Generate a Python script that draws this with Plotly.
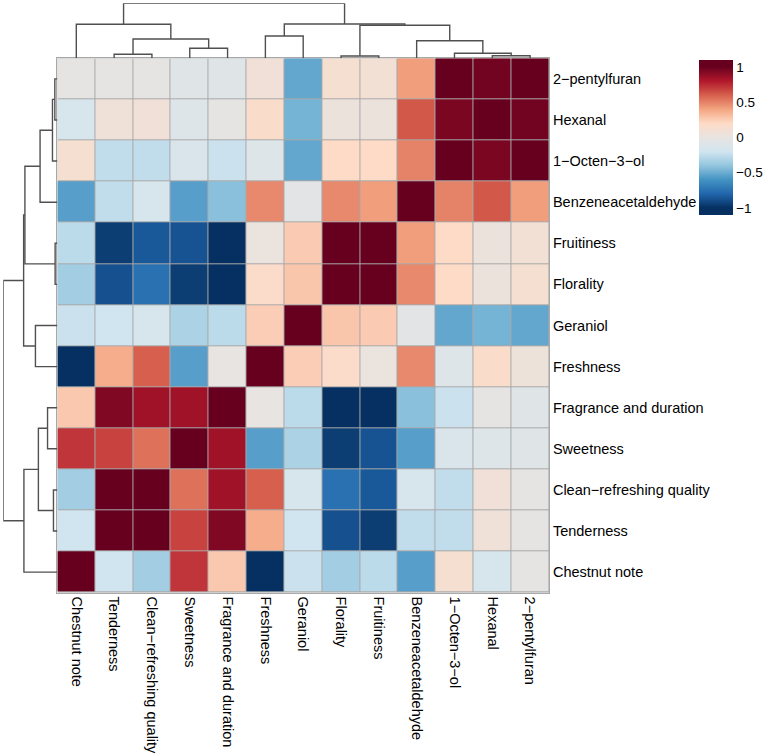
import plotly.graph_objects as go

# ---------------- data ----------------
col_labels = ["Chestnut note", "Tenderness", "Clean−refreshing quality", "Sweetness",
              "Fragrance and duration", "Freshness", "Geraniol", "Florality", "Fruitiness",
              "Benzeneacetaldehyde", "1−Octen−3−ol", "Hexanal", "2−pentylfuran"]
row_labels = col_labels[::-1]

# correlation rows (top to bottom), columns in col_labels order
r_pentylfuran = [-0.03, -0.03, -0.03, -0.08, -0.08, 0.08, -0.52, 0.12, 0.10, 0.42, 1.00, 0.97, 1.00]
r_hexanal     = [-0.15, 0.07, 0.08, -0.10, -0.03, 0.17, -0.47, 0.04, 0.04, 0.62, 0.95, 1.00, 0.97]
r_octenol     = [0.12, -0.25, -0.25, -0.13, -0.22, -0.10, -0.52, 0.20, 0.20, 0.50, 1.00, 0.95, 1.00]
r_benzene     = [-0.55, -0.25, -0.15, -0.55, -0.42, 0.48, -0.05, 0.48, 0.42, 1.00, 0.50, 0.62, 0.42]
r_fruitiness  = [-0.27, -0.95, -0.85, -0.87, -1.00, 0.02, 0.26, 1.00, 1.00, 0.42, 0.20, 0.04, 0.10]
r_florality   = [-0.35, -0.88, -0.75, -0.95, -1.00, 0.18, 0.28, 1.00, 1.00, 0.48, 0.20, 0.04, 0.12]
r_geraniol    = [-0.22, -0.20, -0.15, -0.32, -0.27, 0.25, 1.00, 0.28, 0.26, -0.05, -0.52, -0.47, -0.52]
r_freshness   = [-1.00, 0.37, 0.60, -0.55, 0.00, 1.00, 0.25, 0.18, 0.02, 0.48, -0.10, 0.17, 0.05]
r_fragrance   = [0.27, 0.93, 0.85, 0.85, 1.00, 0.00, -0.27, -1.00, -1.00, -0.42, -0.22, -0.03, -0.08]
r_sweetness   = [0.72, 0.68, 0.55, 1.00, 0.85, -0.55, -0.32, -0.95, -0.87, -0.55, -0.13, -0.10, -0.08]
r_clean       = [-0.35, 1.00, 1.00, 0.55, 0.85, 0.60, -0.15, -0.75, -0.85, -0.15, -0.25, 0.08, -0.03]
r_tenderness  = [-0.20, 1.00, 1.00, 0.68, 0.93, 0.37, -0.20, -0.88, -0.95, -0.25, -0.25, 0.07, -0.03]
r_chestnut    = [1.00, -0.20, -0.35, 0.72, 0.27, -1.00, -0.22, -0.35, -0.27, -0.55, 0.12, -0.15, -0.03]

z_rows = [r_pentylfuran, r_hexanal, r_octenol, r_benzene, r_fruitiness, r_florality,
          r_geraniol, r_freshness, r_fragrance, r_sweetness, r_clean, r_tenderness, r_chestnut]

# hierarchical clustering merges (child a, child b, height); leaves 0..12 in col order
merge_a = [11, 7, 1, 10, 3, 9, 15, 5, 14, 0, 20, 22]
merge_b = [12, 8, 2, 13, 4, 16, 17, 6, 18, 19, 21, 23]
merge_h = [2.6, 2.3, 4.0, 5.0, 10.0, 17.6, 19.3, 22.3, 33.0, 34.0, 34.3, 55.0]

cbar_ticks = [-1, -0.5, 0, 0.5, 1]
cbar_text = ["−1", "−0.5", "0", "0.5", "1"]

# ---------------- layout geometry ----------------
W, H = 770, 756
hm_x0, hm_x1 = 58.3, 557.7
hm_y0, hm_y1 = 58.3, 592.7
dend_top = 3.3
n = len(col_labels)

zmin, zmax = -1.1, 1.1
rdbu = ["#053061", "#2166AC", "#4393C3", "#92C5DE", "#D1E5F0", "#E8E4E1",
        "#FDDBC7", "#F4A582", "#D6604D", "#B2182B", "#67001F"]
colorscale = [[0.0, rdbu[0]]]
for i, c in enumerate(rdbu):
    v = -1 + 2 * i / (len(rdbu) - 1)
    colorscale.append([(v - zmin) / (zmax - zmin), c])
colorscale.append([1.0, rdbu[-1]])

# dendrogram coordinates
pos = {i: float(i) for i in range(n)}
hgt = {i: 0.0 for i in range(n)}
seg_p, seg_h = [], []
for k, (a, b, h) in enumerate(zip(merge_a, merge_b, merge_h)):
    seg_p += [pos[a], pos[a], pos[b], pos[b], None]
    seg_h += [hgt[a], h, h, hgt[b], None]
    pos[n + k] = (pos[a] + pos[b]) / 2
    hgt[n + k] = h

fig = go.Figure()
fig.add_trace(go.Heatmap(
    z=z_rows, x=list(range(n)), y=list(range(n)),
    zmin=zmin, zmax=zmax, colorscale=colorscale,
    xgap=1, ygap=1, xaxis="x", yaxis="y",
    colorbar=dict(x=700 / W, xanchor="left", thickness=34, thicknessmode="pixels",
                  len=175 / H, lenmode="fraction", y=1 - 50 / H, yanchor="top",
                  outlinewidth=0, ticks="", tickvals=cbar_ticks, ticktext=cbar_text,
                  tickfont=dict(size=13.5, color="black", family="Liberation Sans, Arial")),
    hoverinfo="skip"))

line_style = dict(color="#505050", width=1.4)
fig.add_trace(go.Scatter(x=seg_p, y=seg_h, mode="lines", line=line_style,
                         xaxis="x2", yaxis="y2", cliponaxis=False, showlegend=False,
                         hoverinfo="skip"))
row_pos = [None if p is None else (n - 1 - p) for p in seg_p]
fig.add_trace(go.Scatter(x=seg_h, y=row_pos, mode="lines", line=line_style,
                         xaxis="x3", yaxis="y3", cliponaxis=False, showlegend=False,
                         hoverinfo="skip"))

fig.add_shape(type="rect", xref="x", yref="y", x0=-0.5, x1=n - 0.5, y0=-0.5, y1=n - 0.5,
              fillcolor="#a8a8a8", line=dict(width=0), layer="below")

font = dict(size=14.5, color="black", family="Liberation Sans, Arial")
hm_xdom = [hm_x0 / W, hm_x1 / W]
hm_ydom = [1 - hm_y1 / H, 1 - hm_y0 / H]
hidden = dict(visible=False, showgrid=False, zeroline=False)

fig.update_layout(
    width=W, height=H, margin=dict(l=0, r=0, t=0, b=0),
    paper_bgcolor="white", plot_bgcolor="white",
    xaxis=dict(domain=hm_xdom, range=[-0.5, n - 0.5], tickvals=list(range(n)),
               ticktext=col_labels, tickangle=90, side="bottom", showgrid=False,
               zeroline=False, ticks="", tickfont=font, anchor="y",
               showline=True, mirror=True, linecolor="#a8a8a8", linewidth=1),
    yaxis=dict(domain=hm_ydom, range=[n - 0.5, -0.5], tickvals=list(range(n)),
               ticktext=row_labels, side="right", showgrid=False, zeroline=False,
               ticks="", tickfont=font, anchor="x",
               showline=True, mirror=True, linecolor="#a8a8a8", linewidth=1),
    xaxis2=dict(domain=hm_xdom, range=[-0.5, n - 0.5], anchor="y2", **hidden),
    yaxis2=dict(domain=[1 - hm_y0 / H, 1 - dend_top / H], range=[0, max(merge_h)],
                anchor="x2", **hidden),
    xaxis3=dict(domain=[dend_top / W, hm_x0 / W], range=[max(merge_h), 0], anchor="y3", **hidden),
    yaxis3=dict(domain=hm_ydom, range=[n - 0.5, -0.5], anchor="x3", **hidden),
)

fig.write_html("out.html")
